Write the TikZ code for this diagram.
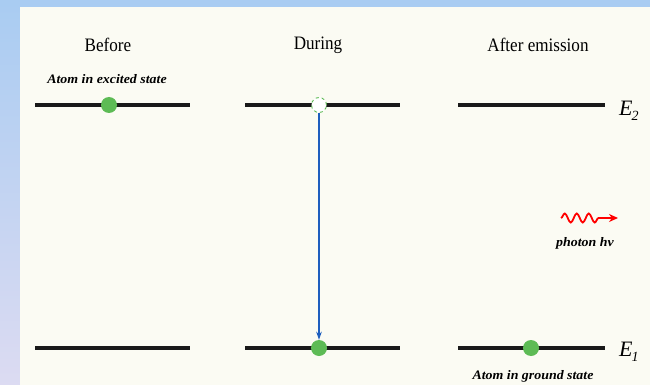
\documentclass[tikz,border=0pt]{standalone}
\usepackage{fontspec}
\setmainfont{Liberation Serif}
\newfontfamily\narrowfont[FakeStretch=0.9]{Liberation Serif}
\newfontfamily\wideital[FakeStretch=1.07]{Liberation Serif}
\usetikzlibrary{arrows.meta,decorations.pathmorphing}
\definecolor{bgblue}{HTML}{A9CCF2}
\definecolor{bglav}{HTML}{DCDBF2}
\definecolor{panel}{HTML}{FBFBF3}
\definecolor{ballgreen}{HTML}{5DBB55}
\definecolor{arrowblue}{HTML}{1E5EBE}
\tikzset{
  level/.style={line width=3.2pt, black!90},
  ball/.style={circle, fill=ballgreen, inner sep=0pt, minimum size=16pt},
  hole/.style={circle, fill=white, draw=ballgreen, dashed, line width=0.9pt, inner sep=0pt, minimum size=15pt},
  title/.style={font=\narrowfont\fontsize{19}{21}\selectfont, inner sep=0pt},
  note/.style={font=\wideital\bfseries\itshape\fontsize{13}{14}\selectfont, inner sep=0pt},
  elabel/.style={font=\itshape\fontsize{22}{24}\selectfont, inner sep=0pt, anchor=west}
}
\begin{document}
\begin{tikzpicture}[x=1pt,y=-1pt]
\useasboundingbox (0,0) rectangle (650,385);
\shade[top color=bgblue, bottom color=bglav] (0,0) rectangle (650,385);
\fill[bgblue] (0,0) rectangle (650,7);
\fill[panel] (20,7) rectangle (650,385);
% titles
\node[title] (t1) at (108,45) {Before};
\node[title] (t2) at (318,45) {During};
\node[title] (t3) at (538,45) {After emission};
% E2 levels
\coordinate (a2l) at (35,105); \coordinate (a2r) at (190,105);
\coordinate (b2l) at (245,105); \coordinate (b2r) at (400,105);
\coordinate (c2l) at (458,105); \coordinate (c2r) at (605,105);
\draw[level] (a2l) -- (a2r);
\draw[level] (b2l) -- (b2r);
\draw[level] (c2l) -- (c2r);
% E1 levels
\coordinate (a1l) at (35,348); \coordinate (a1r) at (190,348);
\coordinate (b1l) at (245,348); \coordinate (b1r) at (400,348);
\coordinate (c1l) at (458,348); \coordinate (c1r) at (605,348);
\draw[level] (a1l) -- (a1r);
\draw[level] (b1l) -- (b1r);
\draw[level] (c1l) -- (c1r);
% atoms
\node[ball] (ex) at (109,105) {};
\node[hole] (h) at (319,105) {};
\node[ball] (g1) at (319,348) {};
\node[ball] (g2) at (531,348) {};
\draw[arrowblue, line width=1.4pt, -{Stealth[length=8pt,width=5.5pt]}] (h.south) -- (g1.north);
% labels
\node[note] (n1) at (107,79) {Atom in excited state};
\node[note] (n2) at (533,376) {Atom in ground state};
\node[elabel] (e2) at (619,111) {E\kern-1pt\raisebox{-5pt}{\fontsize{14}{15}\selectfont 2}};
\node[elabel] (e1) at (619,352) {E\kern-1pt\raisebox{-5pt}{\fontsize{14}{15}\selectfont 1}};
% photon
\coordinate (p0) at (561,218);
\coordinate (p1) at (603,218);
\coordinate (p2) at (618,218);
\draw[red, line width=1.8pt, decorate, decoration={snake, amplitude=4.5pt, segment length=12pt}] (p0) -- (p1);
\draw[red, line width=1.8pt, -{Stealth[length=9pt,width=8pt]}] (p1) -- (p2);
\node[note] (ph) at (585,243) {photon hν};
\end{tikzpicture}
\end{document}
